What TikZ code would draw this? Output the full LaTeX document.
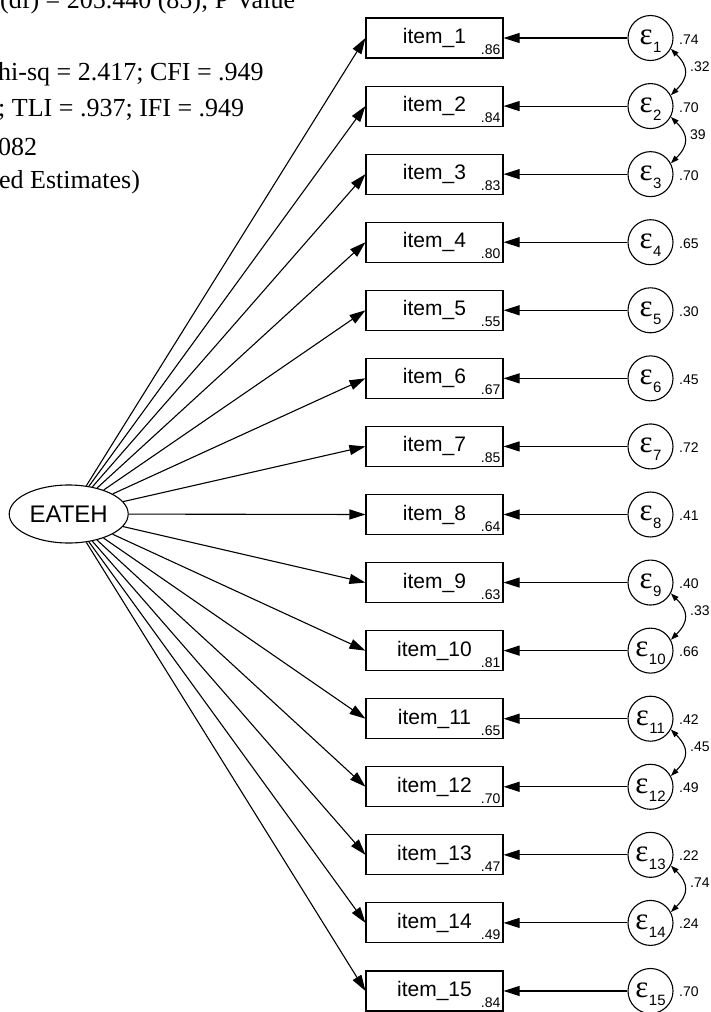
\documentclass[tikz,border=0pt]{standalone}
\usepackage{fontspec}
\setmainfont{Liberation Serif}
\newfontfamily\sansf{Liberation Sans}
\usetikzlibrary{shapes.geometric,arrows.meta,calc}
\begin{document}
\begin{tikzpicture}[x=1pt,y=-1pt,
  box/.style={draw,line width=1.1pt,minimum width=137pt,minimum height=40pt,inner sep=0pt,font=\sansf\fontsize{21}{21}\selectfont},
  err/.style={draw,circle,line width=1.1pt,minimum size=45pt,inner sep=0pt},
  lat/.style={draw,ellipse,line width=1.1pt,minimum width=119pt,minimum height=58pt,inner sep=0pt,font=\sansf\fontsize{24}{24}\selectfont},
  load/.style={line width=1.1pt,-{Triangle[length=16pt,width=10pt]}},
  cov/.style={line width=1.1pt,{Triangle[length=8pt,width=5.5pt]}-{Triangle[length=8pt,width=5.5pt]}},
  val/.style={inner sep=0pt,font=\sansf\fontsize{14}{14}\selectfont},
  fittxt/.style={inner sep=0pt,anchor=base west,font=\fontsize{26}{26}\selectfont}
]
\clip (0,0) rectangle (711,1012);

\node[fittxt] (t1) at (0,8) {(df) = 205.440 (85); P Value};
\node[fittxt] (t2) at (-2,80) {hi-sq = 2.417; CFI = .949};
\node[fittxt] (t3) at (-2,116.5) {; TLI = .937; IFI = .949};
\node[fittxt] (t4) at (-2,155) {082};
\node[fittxt] (t5) at (-1,188) {ed Estimates)};

\node[lat] (eateh) at (68.7,514) {EATEH};

\foreach \i/\bvar/\evar [evaluate=\i as \yy using 38+(\i-1)*68.07] in
  {1/.86/.74, 2/.84/.70, 3/.83/.70, 4/.80/.65, 5/.55/.30, 6/.67/.45, 7/.85/.72, 8/.64/.41,
   9/.63/.40, 10/.81/.66, 11/.65/.42, 12/.70/.49, 13/.47/.22, 14/.49/.24, 15/.84/.70} {
  \node[box] (item\i) at (434.5,\yy) {item\_\i};
  \node[err] (e\i) at (650.5,\yy) {};
  \node[inner sep=0pt] (eps\i) at ($(e\i)+(0,3)$) {{\fontsize{31}{31}\selectfont ε}\kern0.5pt\raisebox{-8pt}{\sansf\fontsize{15}{15}\selectfont\i}};
  \node[val,anchor=base east] (bv\i) at ($(item\i.south east)+(-3,-4)$) {\bvar};
  \node[val,anchor=base west] (ev\i) at (679,\yy+6) {\evar};
  \draw[load] (eateh) -- (item\i.west);
  \draw[load] (e\i) -- (item\i.east);
}

\foreach \a/\b/\c in {1/2/.32, 2/3/39, 9/10/.33, 11/12/.45, 13/14/.74} {
  \draw[cov] (e\a.-28) .. controls +(18,18) and +(18,-18) .. (e\b.28);
  \node[val,anchor=base west] (c\a) at ($(e\a)!0.5!(e\b)+(39.5,-1)$) {\c};
}
\end{tikzpicture}
\end{document}
